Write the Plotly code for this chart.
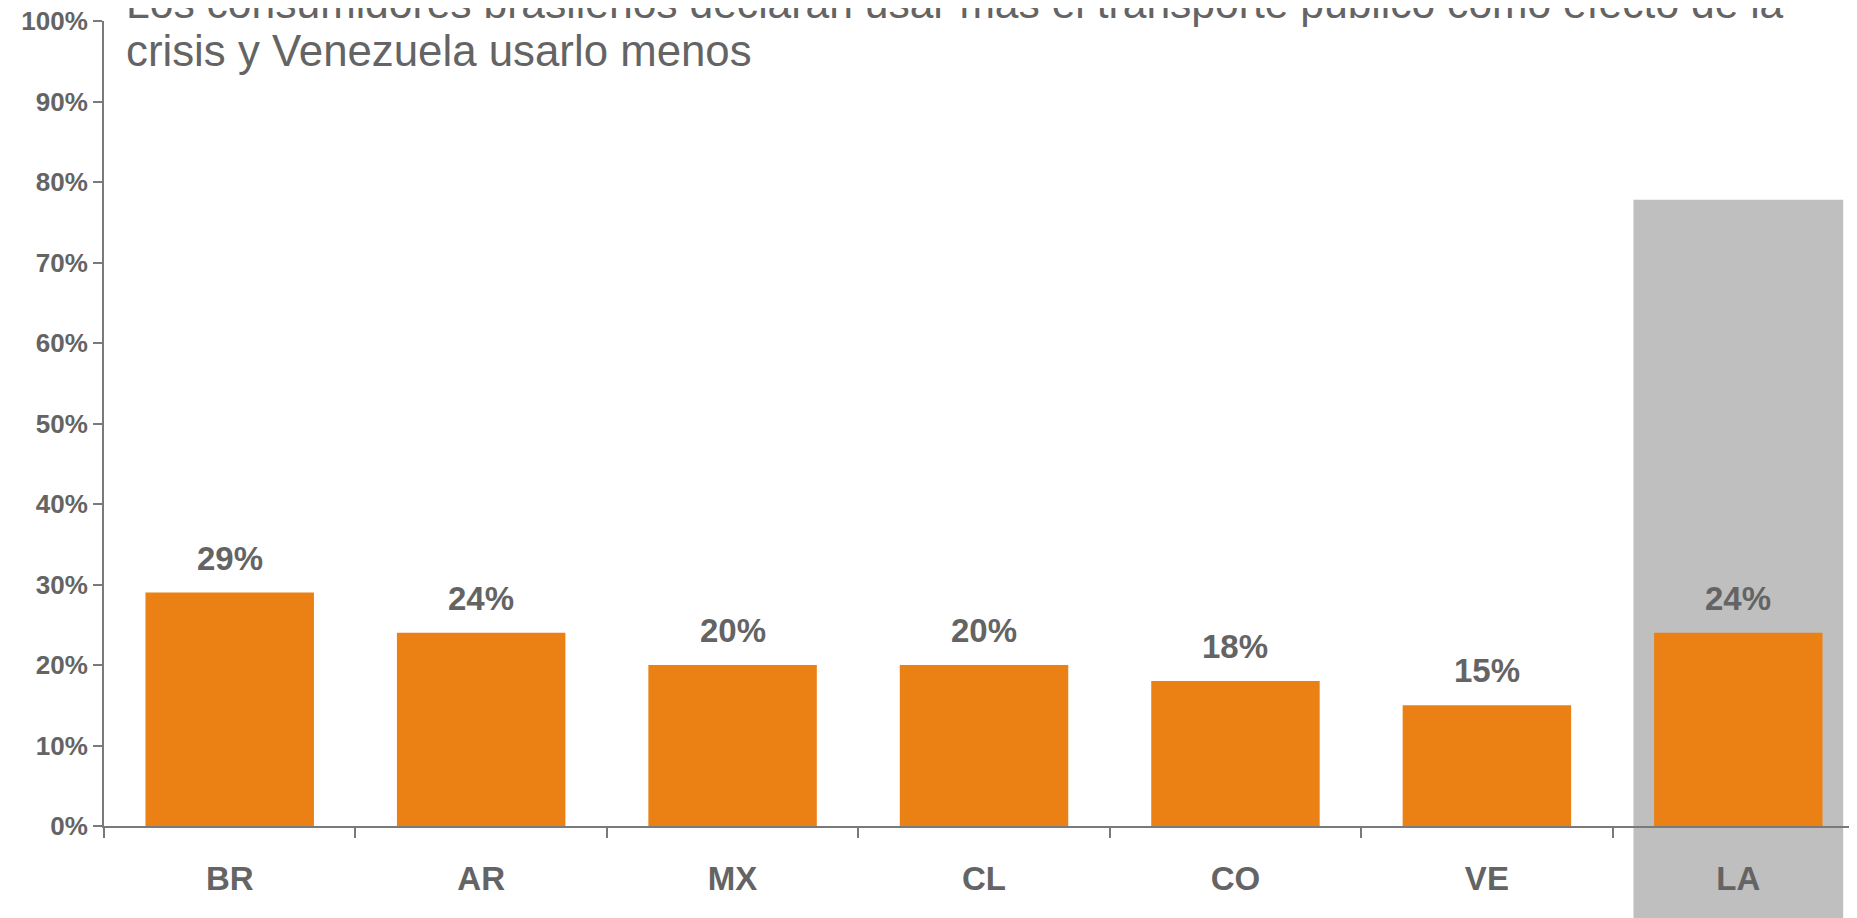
import plotly.graph_objects as go

categories = ["BR", "AR", "MX", "CL", "CO", "VE", "LA"]
values = [0.29, 0.24, 0.20, 0.20, 0.18, 0.15, 0.24]
highlight = "LA"
highlight_top = 0.778
title_lines = [
    "Los consumidores brasileños declaran usar más el transporte público como efecto de la",
    "crisis y Venezuela usarlo menos",
]

ORANGE = "#EB8014"
GRAY_BG = "#BFBFBF"
TXT = "#646464"
AXIS = "#7A7A7A"
FONT = "Liberation Sans, Arial"

fig = go.Figure()
fig.add_trace(go.Bar(
    x=categories, y=values, marker=dict(color=ORANGE, line=dict(width=0)),
    hoverinfo="skip", showlegend=False,
))

# data labels
for c, v in zip(categories, values):
    fig.add_annotation(
        x=c, y=v, xref="x", yref="y", text=f"{round(v*100)}%",
        showarrow=False, yanchor="bottom", yshift=14,
        font=dict(family=FONT, size=33, color=TXT, weight="bold"),
    )

# highlight column
hi = categories.index(highlight)
fig.add_shape(
    type="rect", xref="x", yref="paper",
    x0=hi - 0.417, x1=hi + 0.417, y0=-0.2, y1=highlight_top,
    fillcolor=GRAY_BG, line=dict(width=0), layer="below",
)

# title (two lines, the first partly clipped at the top)
fig.add_annotation(
    xref="paper", yref="paper", x=0.0114, y=1.0, yshift=-8,
    text=title_lines[0], showarrow=False, xanchor="left", yanchor="bottom",
    font=dict(family=FONT, size=42.6, color=TXT),
)
fig.add_annotation(
    xref="paper", yref="paper", x=0.0114, y=1.0, yshift=-56,
    text=title_lines[1], showarrow=False, xanchor="left", yanchor="bottom",
    font=dict(family=FONT, size=43.8, color=TXT),
)

fig.update_layout(
    width=1849, height=910,
    margin=dict(l=96, r=0, t=13, b=92, autoexpand=False),
    paper_bgcolor="white", plot_bgcolor="rgba(0,0,0,0)",
    bargap=0.33,
    xaxis=dict(
        range=[-0.5, 6.472], showgrid=False, zeroline=False,
        showline=True, linecolor=AXIS, linewidth=2,
        ticks="outside", tickson="boundaries", ticklen=10, tickwidth=2, tickcolor=AXIS,
        tickfont=dict(family=FONT, size=33, color=TXT, weight="bold"),
        ticklabelstandoff=22, automargin=False, fixedrange=True,
    ),
    yaxis=dict(
        range=[0, 1], dtick=0.1, tickformat=".0%", showgrid=False, zeroline=False,
        showline=True, linecolor=AXIS, linewidth=2,
        ticks="outside", ticklen=9, tickwidth=2, tickcolor=AXIS,
        tickfont=dict(family=FONT, size=26, color=TXT, weight="bold"),
        ticklabeloverflow="allow",
        automargin=False, fixedrange=True,
    ),
)

fig.write_html("out.html")
